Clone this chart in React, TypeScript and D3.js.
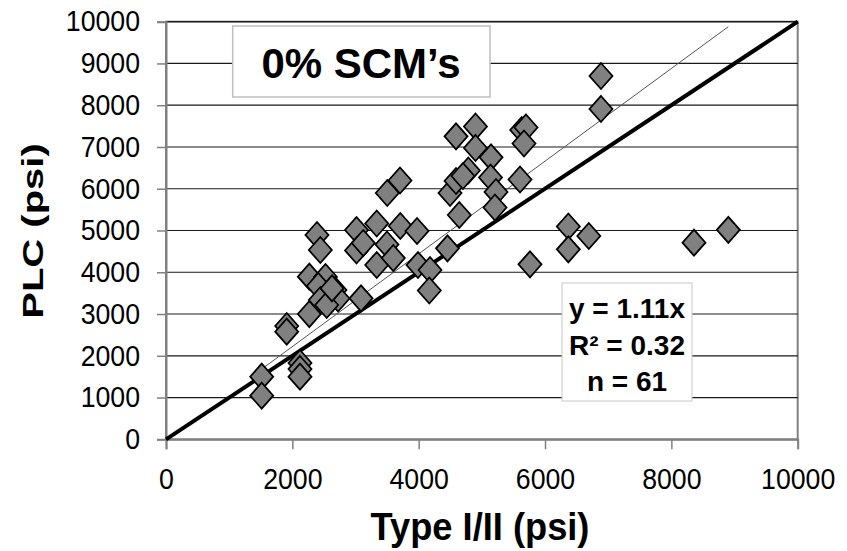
import { useRef, useEffect } from 'react'
import * as d3 from 'd3'

// Type I/II strength (x) and PLC strength (y), psi
const typeIII = [
  1515, 1515, 1911, 1911, 2121, 2121, 2121, 2269, 2269, 2390,
  2443, 2525, 2411, 2675, 2723, 2443, 2544, 3016, 3016, 3123,
  3087, 3336, 3336, 3498, 3598, 3709, 3974, 3704, 3503, 3989,
  4179, 4168, 4456, 4643, 4496, 4591, 4786, 4591, 4899, 4899,
  5145, 5137, 5224, 5208, 5631, 5699, 5667, 5604, 5762, 6369,
  6369, 6693, 6886, 6886, 8358, 8902, 4701, 2628
]
const plc = [
  1499, 1044, 2713, 2577, 1827, 1684, 1499, 3894, 3000, 4892,
  4533, 3886, 3671, 3575, 3372, 3336, 3216, 5012, 4521, 4701,
  3376, 5168, 4174, 4665, 4341, 5108, 4988, 6197, 5898, 4174,
  4054, 3563, 4574, 5371, 5898, 6185, 6437, 7256, 7490, 6976,
  6753, 6269, 5922, 5551, 7407, 7467, 7083, 6221, 4190, 5096,
  4550, 4868, 8700, 7910, 4708, 5017, 6305, 3614
]

const xTicks = [0, 2000, 4000, 6000, 8000, 10000]
const yTicks = [0, 1000, 2000, 3000, 4000, 5000, 6000, 7000, 8000, 9000, 10000]
const slope = 1.11
const statLines = ['y = 1.11x', 'R² = 0.32', 'n = 61']
const chartTitle = '0% SCM’s'
const xTitle = 'Type I/II (psi)'
const yTitle = 'PLC (psi)'

const FONT = "'Liberation Sans', Arial, sans-serif"

const App = () => {
  const svgRef = useRef<SVGSVGElement>(null)

  useEffect(() => {
    draw()
  }, [])

  const draw = () => {
    const width = 847
    const height = 551
    const margin = { top: 21.7, left: 166, bottom: 111.7, right: 49.3 }

    const svg = d3.select(svgRef.current).attr('width', width).attr('height', height)
      .style('font-family', FONT)
    svg.selectAll('*').remove()

    svg.append('rect').attr('width', width).attr('height', height).attr('fill', '#fff')

    const x = d3.scaleLinear().domain([0, 10000]).range([margin.left, width - margin.right])
    const y = d3.scaleLinear().domain([0, 10000]).range([height - margin.bottom, margin.top])

    // plot frame (grey), top is covered by the 10000 grid line
    svg.append('rect')
      .attr('x', x(0)).attr('y', y(10000))
      .attr('width', x(10000) - x(0)).attr('height', y(0) - y(10000))
      .attr('fill', 'none').attr('stroke', '#808080').attr('stroke-width', 2)

    // horizontal grid lines
    svg.append('g')
      .selectAll('line')
      .data(yTicks.filter(d => d > 0))
      .join('line')
      .attr('x1', x(0)).attr('x2', x(10000))
      .attr('y1', d => y(d)).attr('y2', d => y(d))
      .attr('stroke', '#1a1a1a').attr('stroke-width', 1.2)

    // axes
    const yAxis = svg.append('g')
      .attr('transform', `translate(${x(0)},0)`)
      .call(d3.axisLeft(y).tickValues(yTicks).tickSize(9).tickPadding(17).tickFormat(d3.format('d')))
    const xAxis = svg.append('g')
      .attr('transform', `translate(0,${y(0)})`)
      .call(d3.axisBottom(x).tickValues(xTicks).tickSize(10).tickPadding(19).tickFormat(d3.format('d')))

    ;[xAxis, yAxis].forEach(g => {
      g.attr('font-family', FONT).attr('font-size', 29)
      g.select('.domain').attr('stroke', '#808080').attr('stroke-width', 2)
      g.selectAll('.tick line').attr('stroke', '#808080').attr('stroke-width', 1.5)
      // labels in the picture are a little condensed
      g.selectAll<SVGTextElement, unknown>('.tick text')
        .attr('fill', '#000')
        .each(function () {
          const w = this.getComputedTextLength()
          d3.select(this).attr('textLength', w * 0.92).attr('lengthAdjust', 'spacingAndGlyphs')
        })
    })

    // title box
    svg.append('rect')
      .attr('x', 232.7).attr('y', 26).attr('width', 257.3).attr('height', 71)
      .attr('fill', '#fff').attr('stroke', '#bfbfbf').attr('stroke-width', 1.5)
    svg.append('text')
      .attr('x', 361).attr('y', 78)
      .attr('text-anchor', 'middle')
      .attr('font-weight', 'bold').attr('font-size', 42)
      .text(chartTitle)

    // stats box
    svg.append('rect')
      .attr('x', 562).attr('y', 283).attr('width', 130).attr('height', 118)
      .attr('fill', '#fff').attr('stroke', '#c8c8c8').attr('stroke-width', 1)
    svg.append('g')
      .selectAll('text')
      .data(statLines)
      .join('text')
      .attr('x', 627)
      .attr('y', (d, i) => 318 + i * 36.5)
      .attr('text-anchor', 'middle')
      .attr('font-weight', 'bold').attr('font-size', 28)
      .text(d => d)

    // 1:1 line
    svg.append('line')
      .attr('x1', x(0)).attr('y1', y(0))
      .attr('x2', x(10000)).attr('y2', y(10000))
      .attr('stroke', '#000').attr('stroke-width', 4)

    // trend line y = 1.11x
    const xmin = d3.min(typeIII) as number
    const xmax = d3.max(typeIII) as number
    svg.append('line')
      .attr('x1', x(xmin)).attr('y1', y(xmin * slope))
      .attr('x2', x(xmax)).attr('y2', y(xmax * slope))
      .attr('stroke', '#555').attr('stroke-width', 1)

    // markers
    const pts = typeIII.map((v, i) => [v, plc[i]])
    svg.append('g')
      .selectAll('path')
      .data(pts)
      .join('path')
      .attr('transform', d => `translate(${x(d[0])},${y(d[1])})`)
      .attr('d', 'M0,-13L11.5,0L0,13L-11.5,0Z')
      .attr('fill', '#808080')
      .attr('stroke', '#000')
      .attr('stroke-width', 1.8)
      .attr('stroke-linejoin', 'miter')

    // axis titles
    svg.append('text')
      .attr('transform', `translate(480,540) scale(0.93,1)`)
      .attr('text-anchor', 'middle')
      .attr('font-weight', 'bold').attr('font-size', 39)
      .text(xTitle)

    svg.append('text')
      .attr('transform', `translate(43,231) rotate(-90) scale(1,0.72)`)
      .attr('text-anchor', 'middle')
      .attr('font-weight', 'bold').attr('font-size', 40)
      .text(yTitle)
  }

  return <svg ref={svgRef} style={{ position: 'absolute', left: 0, top: 0 }}></svg>
}

export default App
